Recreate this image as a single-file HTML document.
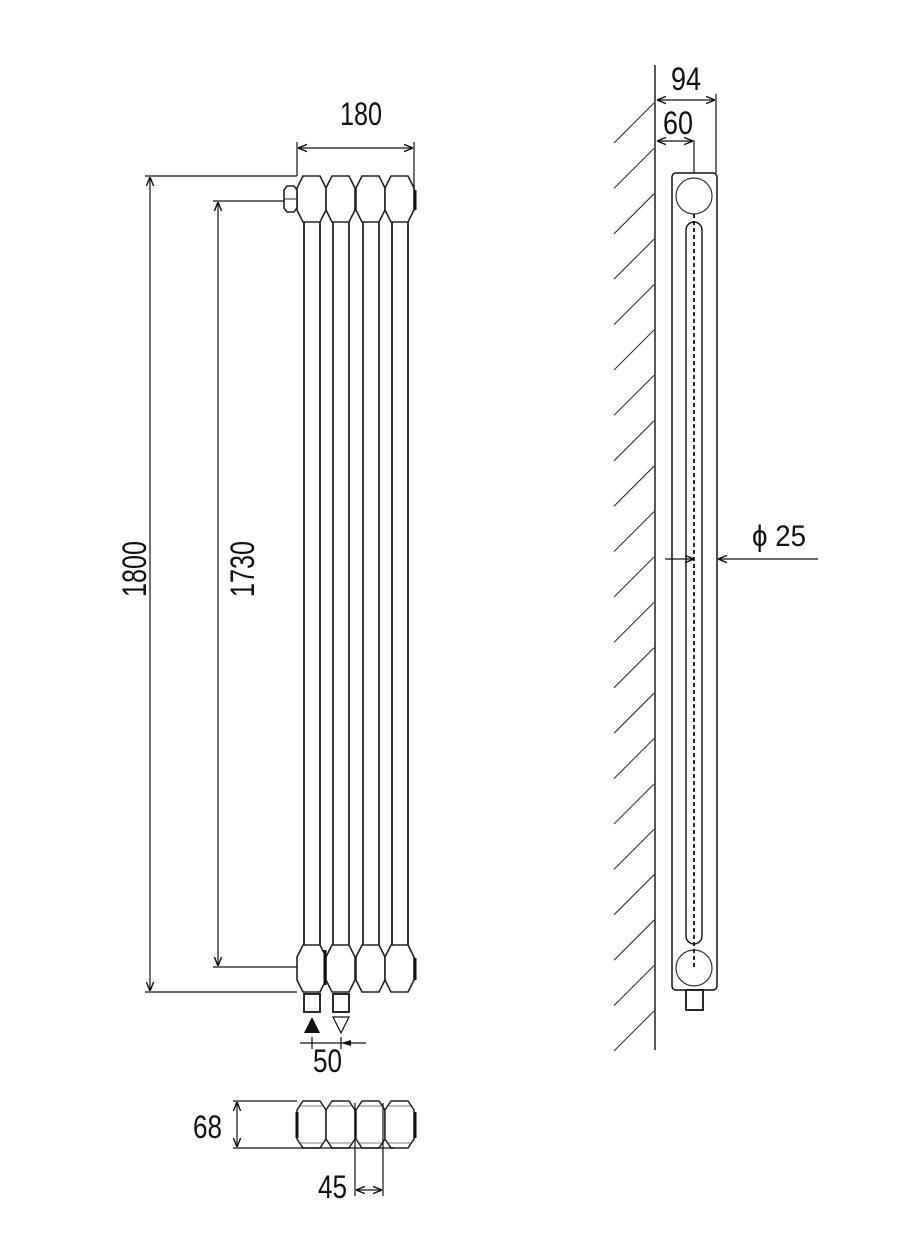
<!DOCTYPE html>
<html><head><meta charset="utf-8"><style>
html,body{margin:0;padding:0;background:#fff}
svg{display:block}
text{font-family:"Liberation Sans",sans-serif;fill:#111}
</style></head><body>
<svg width="900" height="1250" viewBox="0 0 900 1250" xmlns="http://www.w3.org/2000/svg">
<defs>
<marker id="a" viewBox="0 0 10 10" refX="10" refY="5" markerWidth="9" markerHeight="9" orient="auto-start-reverse" markerUnits="userSpaceOnUse"><path d="M0,1 L10,5 L0,9" fill="none" stroke="#111" stroke-width="1.6"/></marker>
<g id="col">
<path d="M6,176 L23,176 L29,188 L29,210 L23,222 L6,222 L0,210 L0,188 Z" fill="#fff" stroke="#222" stroke-width="1.6"/>
<line x1="7" y1="222" x2="7" y2="945" stroke="#222" stroke-width="1.8"/>
<line x1="23" y1="222" x2="23" y2="945" stroke="#222" stroke-width="1.8"/>
<path d="M6,945 L23,945 L29,957 L29,980 L23,992 L6,992 L0,980 L0,957 Z" fill="#fff" stroke="#222" stroke-width="1.6"/>
</g>
<g id="tv">
<path d="M6,1101 L23,1101 L29,1110 L29,1139 L23,1148 L6,1148 L0,1139 L0,1110 Z" fill="#fff" stroke="#222" stroke-width="1.5"/>
<line x1="3" y1="1106" x2="26" y2="1106" stroke="#555" stroke-width="0.8"/>
<line x1="3" y1="1143" x2="26" y2="1143" stroke="#555" stroke-width="0.8"/>
</g>
</defs>

<!-- FRONT VIEW -->
<use href="#col" x="297"/>
<use href="#col" x="326"/>
<use href="#col" x="356"/>
<use href="#col" x="385"/>
<line x1="415" y1="190" x2="415" y2="210" stroke="#111" stroke-width="3"/>
<line x1="415" y1="958" x2="415" y2="980" stroke="#111" stroke-width="3"/>
<line x1="325" y1="950" x2="325" y2="985" stroke="#111" stroke-width="3"/>
<path d="M287,186 L294,186 L297,190 L297,208 L294,212 L287,212 L284,208 L284,190 Z" fill="#fff" stroke="#222" stroke-width="1.6"/>
<line x1="284" y1="199" x2="297" y2="199" stroke="#222" stroke-width="1"/>

<!-- 180 -->
<line x1="297" y1="142" x2="297" y2="176" stroke="#111" stroke-width="1.2"/>
<line x1="414" y1="142" x2="414" y2="190" stroke="#111" stroke-width="1.2"/>
<line x1="298" y1="148" x2="413" y2="148" stroke="#111" stroke-width="1.2" marker-start="url(#a)" marker-end="url(#a)"/>
<text x="340" y="125" font-size="32" textLength="42" lengthAdjust="spacingAndGlyphs">180</text>

<!-- 1800 -->
<line x1="145" y1="176" x2="297" y2="176" stroke="#111" stroke-width="1.2"/>
<line x1="145" y1="992" x2="297" y2="992" stroke="#111" stroke-width="1.2"/>
<line x1="150" y1="177" x2="150" y2="991" stroke="#111" stroke-width="1.2" marker-start="url(#a)" marker-end="url(#a)"/>
<text transform="translate(146,597) rotate(-90)" font-size="34" textLength="56" lengthAdjust="spacingAndGlyphs">1800</text>

<!-- 1730 -->
<line x1="213" y1="201" x2="284" y2="201" stroke="#111" stroke-width="1.2"/>
<line x1="213" y1="967" x2="297" y2="967" stroke="#111" stroke-width="1.2"/>
<line x1="218" y1="202" x2="218" y2="966" stroke="#111" stroke-width="1.2" marker-start="url(#a)" marker-end="url(#a)"/>
<text transform="translate(254,597) rotate(-90)" font-size="34" textLength="56" lengthAdjust="spacingAndGlyphs">1730</text>

<!-- bottom pipes -->
<rect x="304" y="994" width="16" height="18" fill="#fff" stroke="#111" stroke-width="1.8"/>
<rect x="333" y="994" width="16" height="18" fill="#fff" stroke="#111" stroke-width="1.8"/>
<path d="M312,1017 L320,1033 L304,1033 Z" fill="#111"/>
<path d="M333,1017 L349,1017 L341,1033 Z" fill="#fff" stroke="#111" stroke-width="1.2"/>
<line x1="300" y1="1043" x2="366" y2="1043" stroke="#111" stroke-width="1.2"/>
<line x1="312" y1="1037" x2="312" y2="1049" stroke="#111" stroke-width="1.2"/>
<line x1="341" y1="1037" x2="341" y2="1049" stroke="#111" stroke-width="1.2"/>
<path d="M341,1043 L351,1040 L351,1046 Z" fill="#111"/>
<text x="313" y="1072" font-size="32" textLength="29" lengthAdjust="spacingAndGlyphs">50</text>

<!-- TOP VIEW -->
<use href="#tv" x="297"/>
<use href="#tv" x="326"/>
<use href="#tv" x="356"/>
<use href="#tv" x="385"/>
<line x1="297" y1="1112" x2="297" y2="1138" stroke="#111" stroke-width="3"/>
<line x1="415" y1="1112" x2="415" y2="1138" stroke="#111" stroke-width="3"/>
<line x1="233" y1="1101" x2="297" y2="1101" stroke="#111" stroke-width="1.2"/>
<line x1="233" y1="1148" x2="395" y2="1148" stroke="#111" stroke-width="1.2"/>
<line x1="237" y1="1102" x2="237" y2="1147" stroke="#111" stroke-width="1.2" marker-start="url(#a)" marker-end="url(#a)"/>
<text x="193" y="1138" font-size="32" textLength="29" lengthAdjust="spacingAndGlyphs">68</text>
<line x1="355" y1="1103" x2="355" y2="1196" stroke="#111" stroke-width="1.2"/>
<line x1="383" y1="1103" x2="383" y2="1196" stroke="#111" stroke-width="1.2"/>
<line x1="356" y1="1190" x2="382" y2="1190" stroke="#111" stroke-width="1.2" marker-start="url(#a)" marker-end="url(#a)"/>
<text x="318" y="1198" font-size="32" textLength="29" lengthAdjust="spacingAndGlyphs">45</text>

<!-- SIDE VIEW -->
<line x1="655" y1="65" x2="655" y2="1050" stroke="#111" stroke-width="1.4"/>
<g stroke="#333" stroke-width="1.1">
<line x1="654" y1="103" x2="614" y2="143"/>
<line x1="654" y1="148.4" x2="614" y2="188.4"/>
<line x1="654" y1="193.8" x2="614" y2="233.8"/>
<line x1="654" y1="239.2" x2="614" y2="279.2"/>
<line x1="654" y1="284.6" x2="614" y2="324.6"/>
<line x1="654" y1="330" x2="614" y2="370"/>
<line x1="654" y1="375.4" x2="614" y2="415.4"/>
<line x1="654" y1="420.8" x2="614" y2="460.8"/>
<line x1="654" y1="466.2" x2="614" y2="506.2"/>
<line x1="654" y1="511.6" x2="614" y2="551.6"/>
<line x1="654" y1="557" x2="614" y2="597"/>
<line x1="654" y1="602.4" x2="614" y2="642.4"/>
<line x1="654" y1="647.8" x2="614" y2="687.8"/>
<line x1="654" y1="693.2" x2="614" y2="733.2"/>
<line x1="654" y1="738.6" x2="614" y2="778.6"/>
<line x1="654" y1="784" x2="614" y2="824"/>
<line x1="654" y1="829.4" x2="614" y2="869.4"/>
<line x1="654" y1="874.8" x2="614" y2="914.8"/>
<line x1="654" y1="920.2" x2="614" y2="960.2"/>
<line x1="654" y1="965.6" x2="614" y2="1005.6"/>
<line x1="654" y1="1011" x2="614" y2="1051"/>
</g>
<rect x="672" y="173" width="45" height="817" rx="4" fill="#fff" stroke="#111" stroke-width="1.5"/>
<circle cx="694" cy="196" r="18" fill="#fff" stroke="#333" stroke-width="1.2"/>
<circle cx="694" cy="968" r="18" fill="#fff" stroke="#333" stroke-width="1.2"/>
<rect x="686" y="222" width="16" height="722" rx="8" fill="#fff" stroke="#111" stroke-width="1.4"/>
<line x1="694" y1="214" x2="694" y2="968" stroke="#111" stroke-width="1.8" stroke-dasharray="4,3"/>
<rect x="686" y="990" width="17" height="20" fill="#fff" stroke="#111" stroke-width="1.8"/>
<line x1="716" y1="94" x2="716" y2="173" stroke="#111" stroke-width="1.2"/>
<line x1="657" y1="100" x2="715" y2="100" stroke="#111" stroke-width="1.2" marker-start="url(#a)" marker-end="url(#a)"/>
<text x="671" y="90" font-size="32" textLength="30" lengthAdjust="spacingAndGlyphs">94</text>
<line x1="694" y1="140" x2="694" y2="173" stroke="#111" stroke-width="1.2"/>
<line x1="657" y1="141" x2="693" y2="141" stroke="#111" stroke-width="1.2" marker-start="url(#a)" marker-end="url(#a)"/>
<text x="663" y="134" font-size="32" textLength="30" lengthAdjust="spacingAndGlyphs">60</text>
<line x1="665" y1="559" x2="694" y2="559" stroke="#111" stroke-width="1.2" marker-end="url(#a)"/>
<line x1="818" y1="559" x2="718" y2="559" stroke="#111" stroke-width="1.2" marker-end="url(#a)"/>
<text x="752" y="546" font-size="30" textLength="54" lengthAdjust="spacingAndGlyphs">ϕ 25</text>
</svg>
</body></html>
